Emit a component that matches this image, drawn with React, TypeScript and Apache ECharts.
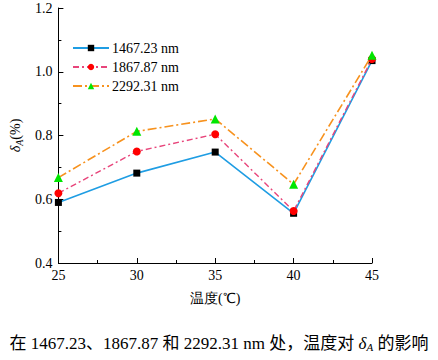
import React, { useEffect, useRef } from "react";
import * as echarts from "echarts";

const temps = [25, 30, 35, 40, 45];
const s1467 = [0.59, 0.682, 0.748, 0.556, 1.035];
const s1867 = [0.619, 0.75, 0.804, 0.563, 1.04];
const s2292 = [0.668, 0.813, 0.852, 0.647, 1.052];
const seriesNames = ["1467.23 nm", "1867.87 nm", "2292.31 nm"];
const yTicks = { min: 0.4, max: 1.2, interval: 0.2 };
const xTicks = { min: 25, max: 45, interval: 5 };

const FONT = "Liberation Serif";
const CAP_FONT = "'Liberation Serif', 'Noto Sans CJK SC', serif";

export default function App() {
  const ref = useRef<HTMLDivElement>(null);
  useEffect(() => {
    if (!ref.current) return;
    const chart = echarts.init(ref.current, null, { renderer: "svg" });
    const pair = (arr: number[]) => temps.map((t, i) => [t, arr[i]]);
    chart.setOption({
      animation: false,
      backgroundColor: "#ffffff",
      textStyle: { fontFamily: FONT },
      grid: { left: 52, top: 8, right: 66, bottom: 97, containLabel: false },
      legend: {
        left: 67,
        top: 36,
        orient: "vertical",
        itemWidth: 36,
        itemHeight: 8,
        itemGap: 5,
        textStyle: { fontFamily: FONT, fontSize: 14, color: "#000", padding: [0, 0, 0, -2] },
        data: seriesNames,
      },
      xAxis: {
        type: "value",
        min: xTicks.min,
        max: xTicks.max,
        interval: xTicks.interval,
        name: "温度(℃)",
        nameLocation: "middle",
        nameGap: 28,
        nameTextStyle: { fontFamily: FONT, fontSize: 14, color: "#000" },
        axisLine: { lineStyle: { color: "#000", width: 1 } },
        axisTick: { inside: true, length: 5, lineStyle: { color: "#000" } },
        minorTick: { show: true, splitNumber: 2, length: 3, lineStyle: { color: "#000" } },
        axisLabel: { fontFamily: FONT, fontSize: 14, color: "#000", margin: 5 },
        splitLine: { show: false },
      },
      yAxis: {
        type: "value",
        min: yTicks.min,
        max: yTicks.max,
        interval: yTicks.interval,
        name: "{d|δ}{s|A}{n|(%)}",
        nameLocation: "middle",
        nameGap: 33,
        nameRotate: 90,
        nameTextStyle: {
          color: "#000",
          rich: {
            d: { fontFamily: FONT, fontSize: 14, fontStyle: "italic", color: "#000" },
            s: { fontFamily: FONT, fontSize: 10, fontStyle: "italic", color: "#000", padding: [8, 0, 0, 0] },
            n: { fontFamily: FONT, fontSize: 14, color: "#000" },
          },
        },
        axisLine: { show: true, lineStyle: { color: "#000", width: 1 } },
        axisTick: { show: true, inside: true, length: 5, lineStyle: { color: "#000" } },
        minorTick: { show: true, splitNumber: 2, length: 3, lineStyle: { color: "#000" } },
        axisLabel: {
          fontFamily: FONT,
          fontSize: 14,
          color: "#000",
          margin: 6,
          formatter: (v: number) => v.toFixed(1),
        },
        splitLine: { show: false },
      },
      series: [
        {
          name: seriesNames[0],
          type: "line",
          data: pair(s1467),
          symbol: "rect",
          symbolSize: 7,
          itemStyle: { color: "#000000" },
          lineStyle: { color: "#1f9de3", width: 1.6, type: "solid" },
          z: 3,
        },
        {
          name: seriesNames[1],
          type: "line",
          data: pair(s1867),
          symbol: "circle",
          symbolSize: 8,
          itemStyle: { color: "#ff0000" },
          lineStyle: { color: "#e8457b", width: 1.4, type: [6, 3, 2, 3] },
          z: 4,
        },
        {
          name: seriesNames[2],
          type: "line",
          data: pair(s2292),
          symbol: "triangle",
          symbolSize: 9,
          itemStyle: { color: "#00e600" },
          lineStyle: { color: "#f7921e", width: 1.6, type: [9, 3, 2, 3] },
          z: 5,
        },
      ],
      graphic: [
        {
          type: "text",
          left: "center",
          top: 335,
          style: {
            text: "在 1467.23、1867.87 和 2292.31 nm 处，温度对 {d|δ}{s|A} 的影响",
            font: "17px " + CAP_FONT,
            fill: "#000",
            rich: {
              d: { fontFamily: FONT, fontSize: 17, fontStyle: "italic", fill: "#000" },
              s: { fontFamily: FONT, fontSize: 11, fontStyle: "italic", fill: "#000", padding: [7, 0, 0, 0] },
            },
          },
        },
      ],
    });
    return () => chart.dispose();
  }, []);
  return <div ref={ref} style={{ width: 438, height: 360, position: "absolute", left: 0, top: 0 }} />;
}
